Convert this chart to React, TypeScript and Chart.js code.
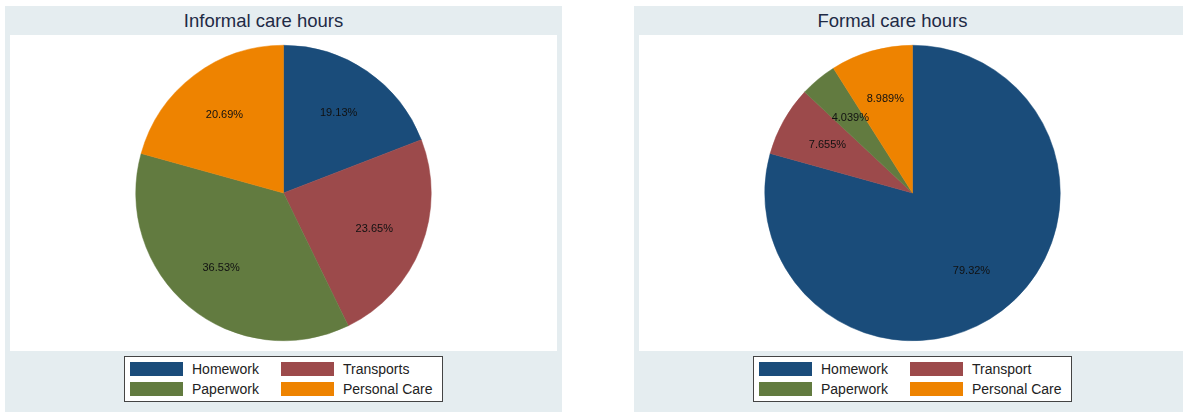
import React, { useEffect, useRef } from "react";
import { Chart, registerables } from "chart.js";

Chart.register(...registerables);

const categoriesInformal = ["Homework", "Transports", "Paperwork", "Personal Care"];
const valuesInformal = [19.13, 23.65, 36.53, 20.69];
const categoriesFormal = ["Homework", "Transport", "Paperwork", "Personal Care"];
const valuesFormal = [79.32, 7.655, 4.039, 8.989];
const sliceColors = ["#1a4c7a", "#9c4a4b", "#627b40", "#ee8300"];
const titleInformal = "Informal care hours";
const titleFormal = "Formal care hours";

const PANEL_BG = "#e5edf0";
const FONT = "'Liberation Sans', Arial, Helvetica, sans-serif";

const labelPlugin = {
  id: "sliceLabels",
  afterDatasetsDraw(chart: any) {
    const ctx = chart.ctx;
    const meta = chart.getDatasetMeta(0);
    const data = chart.data.datasets[0].data as number[];
    ctx.save();
    ctx.fillStyle = "#111";
    ctx.font = `11px ${FONT}`;
    ctx.textAlign = "center";
    ctx.textBaseline = "middle";
    meta.data.forEach((arc: any, i: number) => {
      const p = arc.getProps(["x", "y", "startAngle", "endAngle", "outerRadius"], true);
      const mid = (p.startAngle + p.endAngle) / 2;
      const r = p.outerRadius * 0.66;
      const tx = p.x + Math.cos(mid) * r;
      const ty = p.y + Math.sin(mid) * r;
      ctx.fillText(Number(data[i]).toPrecision(4) + "%", tx, ty);
    });
    ctx.restore();
  },
};

function Panel(props: { title: string; labels: string[]; values: number[]; left: number }) {
  const ref = useRef<HTMLCanvasElement | null>(null);
  useEffect(() => {
    if (!ref.current) return;
    const chart = new Chart(ref.current, {
      type: "pie",
      data: {
        labels: props.labels,
        datasets: [
          {
            data: props.values,
            backgroundColor: sliceColors,
            borderColor: sliceColors,
            borderWidth: 0.5,
          },
        ],
      },
      options: {
        animation: false,
        responsive: false,
        devicePixelRatio: 1,
        layout: { padding: 10 },
        plugins: { legend: { display: false }, tooltip: { enabled: false }, title: { display: false } },
      },
      plugins: [labelPlugin],
    });
    return () => chart.destroy();
  }, []);

  return (
    <div
      style={{
        position: "absolute",
        left: props.left,
        top: 6,
        width: 557,
        height: 420,
        background: PANEL_BG,
        fontFamily: FONT,
      }}
    >
      <div
        style={{
          position: "absolute",
          left: 0,
          width: 517,
          top: 4,
          textAlign: "center",
          fontSize: 18.5,
          color: "#1e2a45",
          lineHeight: "22px",
        }}
      >
        {props.title}
      </div>
      <canvas
        ref={ref}
        width={547}
        height={316}
        style={{ position: "absolute", left: 5, top: 29, width: 547, height: 316, background: "#fff" }}
      />
      <div
        style={{
          position: "absolute",
          left: 119,
          top: 350,
          width: 317,
          height: 44,
          background: "#fff",
          border: "1px solid #444",
        }}
      >
        {props.labels.map((lab, i) => {
          const col = i % 2;
          const row = Math.floor(i / 2);
          return (
            <React.Fragment key={lab}>
              <div
                style={{
                  position: "absolute",
                  left: 5 + col * 151,
                  top: 5 + row * 20,
                  width: 53,
                  height: 14,
                  background: sliceColors[i],
                }}
              />
              <div
                style={{
                  position: "absolute",
                  left: 67 + col * 151,
                  top: 3 + row * 20,
                  fontSize: 14,
                  lineHeight: "18px",
                  color: "#222",
                  whiteSpace: "nowrap",
                }}
              >
                {lab}
              </div>
            </React.Fragment>
          );
        })}
      </div>
    </div>
  );
}

export default function App() {
  return (
    <div
      style={{
        position: "absolute",
        left: 0,
        top: 0,
        width: 1183,
        height: 412,
        overflow: "hidden",
        background: "#fff",
      }}
    >
      <Panel title={titleInformal} labels={categoriesInformal} values={valuesInformal} left={5} />
      <Panel title={titleFormal} labels={categoriesFormal} values={valuesFormal} left={634} />
    </div>
  );
}
